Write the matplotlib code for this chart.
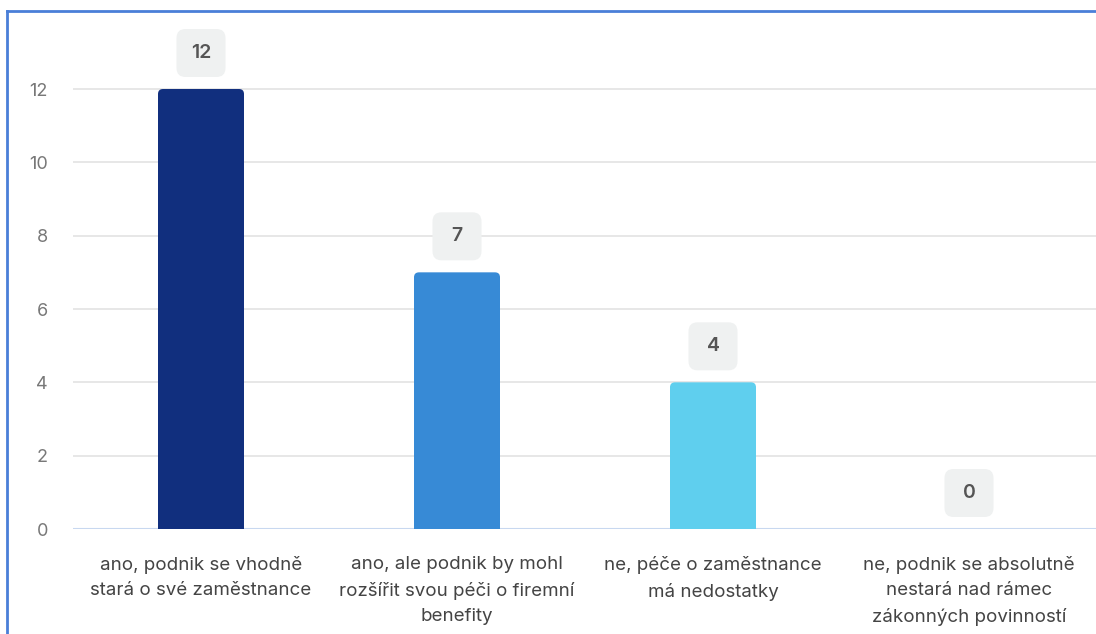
import matplotlib
matplotlib.use("Agg")
import matplotlib.pyplot as plt
from matplotlib.patches import FancyBboxPatch, Rectangle
from matplotlib.lines import Line2D
from matplotlib.transforms import ScaledTranslation

categories = [
    "ano, podnik se vhodně\nstará o své zaměstnance",
    "ano, ale podnik by mohl\nrozšířit svou péči o firemní\nbenefity",
    "ne, péče o zaměstnance\nmá nedostatky",
    "ne, podnik se absolutně\nnestará nad rámec\nzákonných povinností",
]
counts = [12, 7, 4, 0]
colors = ["#112f7e", "#378ad6", "#5fcfee", "#9fe3f5"]
yticks = [0, 2, 4, 6, 8, 10, 12]

plt.rcParams["font.family"] = ["Inter", "DejaVu Sans"]

W, H = 1096, 634
fig = plt.figure(figsize=(W / 100, H / 100), dpi=100)
ax = fig.add_axes([73 / W, (H - 529) / H, (W - 73) / W, 509 / H])

unit_y = 440 / 12  # pixels per count
ax.set_xlim(-0.5, 3.5 - 1 / 256)
ax.set_ylim(0, 509 / unit_y)

bw = 86 / 256
bars = ax.bar(range(len(counts)), counts, width=bw, color=colors, zorder=3)

# swap plain bars for ones with rounded top corners
r = 5 / 256
aspect = (5 / unit_y) / r
for b, c in zip(bars, colors):
    x, h = b.get_x(), b.get_height()
    b.set_visible(False)
    if h <= 0:
        continue
    ax.add_patch(FancyBboxPatch((x, 0), bw, h,
                                boxstyle=f"round,pad=0,rounding_size={r}",
                                mutation_aspect=aspect, fc=c, ec="none", zorder=3))
    ax.add_patch(Rectangle((x, 0), bw, h / 2, fc=c, ec="none", zorder=3))

# value badges above each bar
for i, v in enumerate(counts):
    tr = fig.dpi_scale_trans + ScaledTranslation(i, v, ax.transData)
    ax.add_patch(FancyBboxPatch((-0.245, 0.12), 0.49, 0.48,
                                boxstyle="round,pad=0,rounding_size=0.09",
                                fc="#eff1f1", ec="none", transform=tr,
                                clip_on=False, zorder=4))
    ax.text(0, 0.36, str(v), transform=tr, ha="center", va="center",
            fontsize=14, fontweight="semibold", color="#555555", zorder=5)

ax.set_yticks(yticks)
ax.set_xticks(range(len(categories)))
ax.set_xticklabels(categories, fontsize=13.5, color="#444444", linespacing=1.63)
ax.tick_params(axis="y", length=0, pad=18, labelsize=13, labelcolor="#787878")
ax.tick_params(axis="x", length=0, pad=19.5)

ax.grid(axis="y", color="#e5e5e5", linewidth=1.3, zorder=0)
ax.set_axisbelow(True)
for s in ax.spines.values():
    s.set_visible(False)
ax.axhline(0, color="#c8d8f0", linewidth=1.5, zorder=2)

# outer frame on the top and left edges
fig.add_artist(Line2D([7 / W, 7 / W], [0, 1 - 11 / H], transform=fig.transFigure,
                      color="#4a7fd8", linewidth=2))
fig.add_artist(Line2D([7 / W, 1], [1 - 11 / H, 1 - 11 / H], transform=fig.transFigure,
                      color="#4a7fd8", linewidth=2))

fig.savefig("out.png", dpi=100)
